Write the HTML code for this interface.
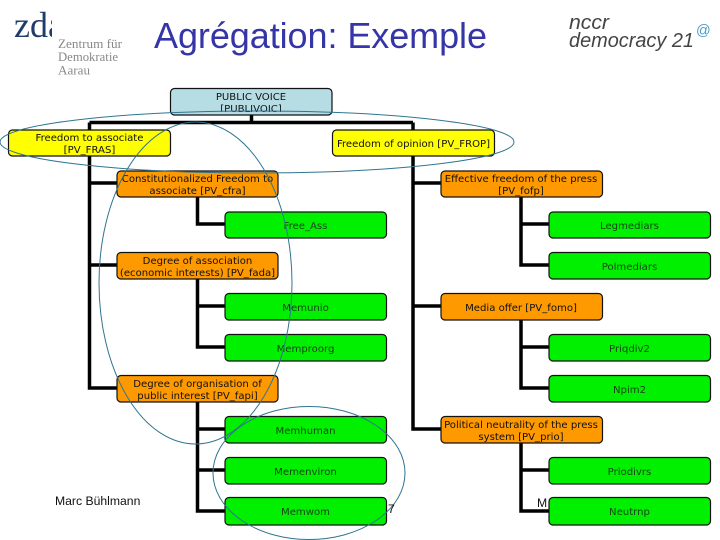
<!DOCTYPE html>
<html><head><meta charset="utf-8"><style>
html,body{margin:0;padding:0;background:#fff;width:720px;height:540px;overflow:hidden}
svg{display:block}
.b{stroke:#111;stroke-width:1.2}
.r{fill:#b7dde4}.y{fill:#ffff00}.o{fill:#ff9900}.g{fill:#00f000}
.t text{font-family:"DejaVu Sans",sans-serif;font-size:10.1px;text-anchor:middle;fill:#111}
.t .gt text{fill:#154515}
.c{fill:none;stroke:#2f7590;stroke-width:1}
</style></head><body>
<svg width="720" height="540" viewBox="0 0 720 540" xmlns="http://www.w3.org/2000/svg">
<defs><clipPath id="zc"><rect x="0" y="0" width="52" height="60"/></clipPath>
<clipPath id="rc"><rect x="170" y="85" width="165" height="27"/></clipPath></defs>
<g clip-path="url(#zc)"><text x="14" y="37" font-family="Liberation Serif,serif" font-size="36" fill="#1f3c6b">zda</text></g>
<g font-family="Liberation Serif,serif" font-size="12.500" fill="#888">
<text x="58" y="48" textLength="64" lengthAdjust="spacingAndGlyphs">Zentrum für</text><text x="58" y="61" textLength="60" lengthAdjust="spacingAndGlyphs">Demokratie</text><text x="58" y="74.500" textLength="32" lengthAdjust="spacingAndGlyphs">Aarau</text></g>
<text x="154" y="48" font-family="Liberation Sans,sans-serif" font-size="36" fill="#3535a8" textLength="333">Agrégation: Exemple</text>
<g font-family="Liberation Sans,sans-serif" font-style="italic" font-size="20" fill="#444">
<text x="569" y="29" textLength="40" lengthAdjust="spacingAndGlyphs">nccr</text><text x="569" y="47" textLength="125" lengthAdjust="spacingAndGlyphs">democracy 21</text></g>
<text x="696" y="35" font-family="Liberation Sans,sans-serif" font-size="14.500" fill="#4a9cc4">@</text>

<g fill="none" stroke="#000" stroke-width="3.500">
<path d="M251.500 115V122.500M89.500 122.500H413M89.500 122.500V388H117M89.500 183H117M89.500 265H117"/>
<path d="M413 122.500V429H441M413 183H441M413 306H441"/>
<path d="M197.500 197V224H225M197.500 279V347H225M197.500 306H225M197.500 402V511H225M197.500 429H225M197.500 470H225"/>
<path d="M521 197V265H549M521 224H549M521 320V388H549M521 347H549M521 443V511H549M521 470H549"/>
</g>

<g class="b">
<rect class="r" x="170.500" y="88.500" width="161.500" height="26.500" rx="4"/>
<rect class="y" x="8.500" y="130" width="162" height="26" rx="4"/>
<rect class="y" x="332.500" y="130" width="162" height="26" rx="4"/>
<rect class="o" x="117" y="171" width="161" height="26" rx="4"/>
<rect class="o" x="441" y="171" width="161.500" height="26" rx="4"/>
<rect class="g" x="225" y="212" width="161.500" height="26" rx="4"/>
<rect class="g" x="549" y="212" width="161.500" height="26" rx="4"/>
<rect class="o" x="117" y="252.500" width="161" height="26.500" rx="4"/>
<rect class="g" x="549" y="252.500" width="161.500" height="26.500" rx="4"/>
<rect class="g" x="225" y="293.500" width="161.500" height="26.500" rx="4"/>
<rect class="o" x="441" y="293.500" width="161.500" height="26.500" rx="4"/>
<rect class="g" x="225" y="334.500" width="161.500" height="26.500" rx="4"/>
<rect class="g" x="549" y="334.500" width="161.500" height="26.500" rx="4"/>
<rect class="o" x="117" y="375.500" width="161" height="26.500" rx="4"/>
<rect class="g" x="549" y="375.500" width="161.500" height="26.500" rx="4"/>
<rect class="g" x="225" y="416.500" width="161.500" height="26.500" rx="4"/>
<rect class="o" x="441" y="416.500" width="161.500" height="26.500" rx="4"/>
<rect class="g" x="225" y="457.500" width="161.500" height="26.500" rx="4"/>
<rect class="g" x="549" y="457.500" width="161.500" height="26.500" rx="4"/>
<rect class="g" x="225" y="497.500" width="161.500" height="27.500" rx="4"/>
<rect class="g" x="549" y="497.500" width="161.500" height="27.500" rx="4"/>
</g>

<g class="t">
<text x="251" y="100">PUBLIC VOICE</text>
<g clip-path="url(#rc)"><text x="251" y="112">[PUBLIVOIC]</text></g>
<text x="89.500" y="141">Freedom to associate</text><text x="89.500" y="153">[PV_FRAS]</text>
<text x="413.500" y="147">Freedom of opinion [PV_FROP]</text>
<text x="197.500" y="182">Constitutionalized Freedom to</text><text x="197.500" y="194">associate [PV_cfra]</text>
<text x="521" y="182">Effective freedom of the press</text><text x="521" y="194">[PV_fofp]</text>
<text x="197.500" y="264">Degree of association</text><text x="197.500" y="276">(economic interests) [PV_fada]</text>
<text x="521" y="311">Media offer [PV_fomo]</text>
<text x="197.500" y="387">Degree of organisation of</text><text x="197.500" y="399">public interest [PV_fapi]</text>
<text x="521" y="428">Political neutrality of the press</text><text x="521" y="440">system [PV_prio]</text>
<g class="gt">
<text x="305.500" y="229">Free_Ass</text><text x="629.500" y="229">Legmediars</text>
<text x="629.500" y="270">Polmediars</text><text x="305.500" y="311">Memunio</text>
<text x="305.500" y="352">Memproorg</text><text x="629.500" y="352">Priqdiv2</text>
<text x="629.500" y="393">Npim2</text><text x="305.500" y="434">Memhuman</text>
<text x="305.500" y="475">Memenviron</text><text x="629.500" y="475">Priodivrs</text>
<text x="305.500" y="515">Memwom</text><text x="629.500" y="515">Neutrnp</text>
</g></g>

<ellipse class="c" cx="257" cy="142" rx="257" ry="31"/>
<ellipse class="c" cx="195.500" cy="283" rx="96.500" ry="161"/>
<ellipse class="c" cx="309" cy="473" rx="96" ry="66.500"/>

<g font-family="Liberation Sans,sans-serif" font-size="12.200" fill="#111">
<text x="55" y="505">Marc Bühlmann</text>
<text x="388" y="513">7</text>
<text x="537" y="507">M</text></g>
</svg>
</body></html>
